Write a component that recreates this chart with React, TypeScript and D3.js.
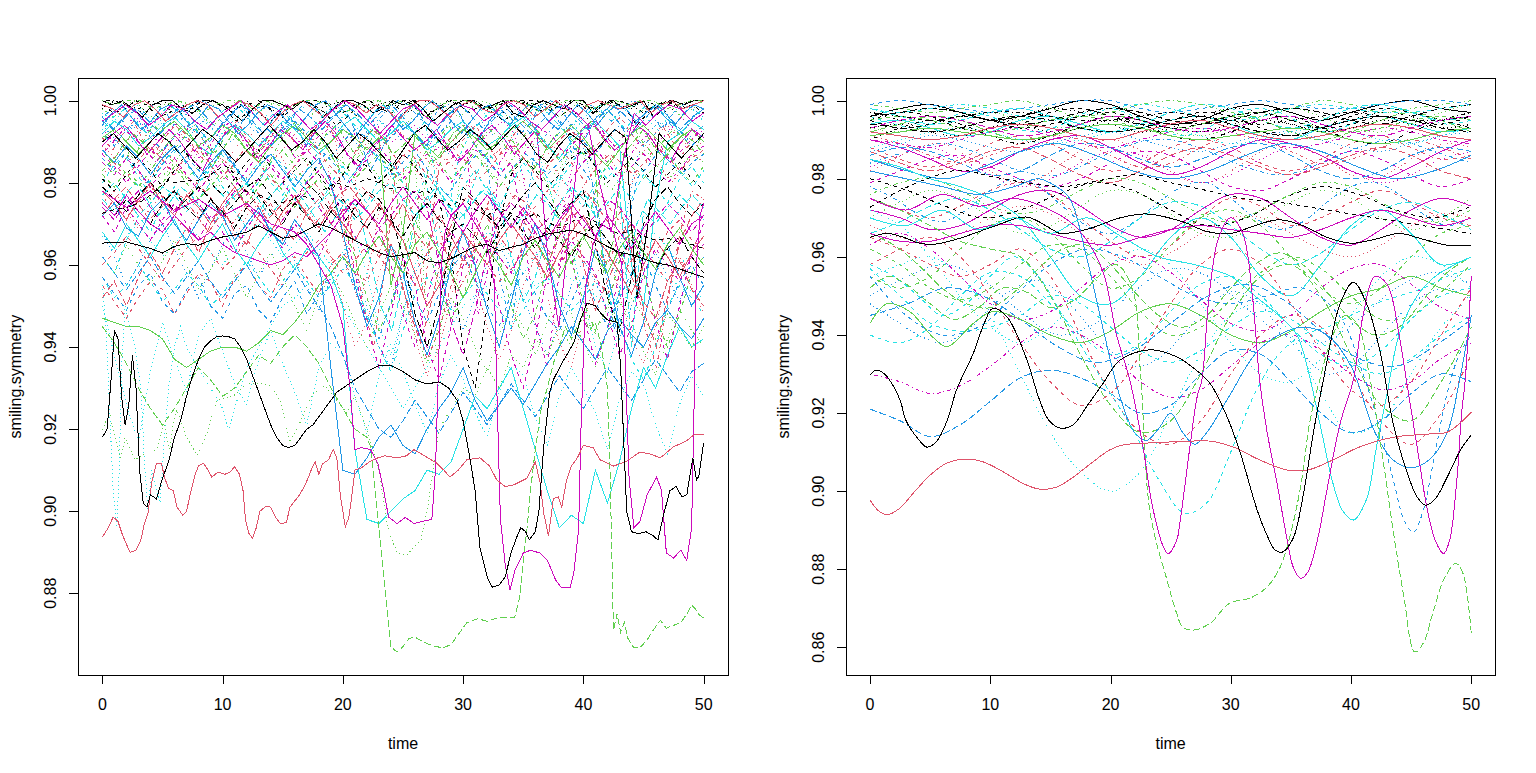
import React from "react";
import * as d3 from "d3";

// ---------- palette / line types (R matplot defaults) ----------
const PALETTE = ["#000000", "#DF536B", "#61D04F", "#2297E6", "#28E2E5", "#CD0BBC"];
const LTY_DASH = [undefined, "4,4", "1,3", "1,3,4,3", "7,3"];

// ---------- axes ----------
const timeTicks = [0, 10, 20, 30, 40, 50];
const rawYTicks = [0.88, 0.9, 0.92, 0.94, 0.96, 0.98, 1.0];
const smoothYTicks = [0.86, 0.88, 0.9, 0.92, 0.94, 0.96, 0.98, 1.0];
const timeLimits = [-2, 52];
const rawYLimits = [0.860097, 1.005457];
const smoothYLimits = [0.852906, 1.005737];
const xLabel = "time";
const yLabel = "smiling.symmetry";

// ---------- LEFT PANEL (raw): prominent series, [time, value] ----------
const rawBlackLow = [[0,.918],[0.4,.920],[0.8,.935],[1.0,.944],[1.3,.942],[1.6,.928],[1.9,.921],[2.2,.926],[2.5,.938],[2.8,.930],[3.1,.910],[3.4,.902],[3.7,.901],[4.0,.904],[4.5,.903],[5.0,.908],[5.5,.912],[6.0,.918],[6.5,.922],[7.0,.928],[7.5,.933],[8.0,.937],[8.5,.940],[9.0,.9415],[9.5,.9425],[10,.9427],[10.5,.9425],[11,.942],[11.5,.940],[12,.937],[12.5,.933],[13,.929],[13.5,.925],[14,.921],[14.5,.918],[15,.916],[15.5,.9155],[16,.916],[16.5,.918],[17,.920],[17.5,.921],[18,.923],[18.5,.925],[19,.927],[19.5,.929],[20,.930],[21,.932],[22,.934],[23,.9355],[24,.9355],[25,.934],[26,.932],[27,.931],[28,.9315],[28.8,.930],[29.5,.927],[30,.922],[30.5,.914],[31,.905],[31.4,.891],[32,.884],[32.4,.8815],[33,.882],[33.5,.884],[34,.890],[34.5,.894],[34.8,.896],[35.2,.895],[35.5,.893],[36,.895],[36.3,.900],[36.7,.9157],[37.2,.929],[37.5,.932],[38.2,.936],[39.2,.941],[39.8,.947],[40.3,.9507],[41,.950],[41.5,.948],[42,.9466],[42.8,.946],[43.1,.935],[43.3,.921],[43.6,.900],[44,.895],[44.6,.8945],[45.2,.895],[45.8,.894],[46.2,.893],[46.7,.8995],[47.2,.905],[47.7,.906],[48.2,.9035],[48.6,.904],[49.1,.913],[49.4,.9076],[49.6,.9085],[50,.9166]];
const rawRedLow = [[0,.8937],[0.5,.896],[0.9,.8986],[1.3,.8975],[1.7,.894],[2.0,.892],[2.3,.890],[2.8,.8905],[3.2,.893],[3.5,.897],[3.8,.8995],[4.1,.907],[4.5,.9117],[4.9,.9117],[5.2,.908],[5.5,.9056],[5.9,.905],[6.2,.901],[6.7,.899],[7.0,.900],[7.3,.904],[7.7,.9088],[8.0,.911],[8.4,.9117],[8.8,.910],[9.1,.9083],[9.6,.9095],[10.2,.909],[10.6,.9095],[11,.9108],[11.4,.909],[11.7,.905],[11.9,.898],[12.2,.8945],[12.5,.8934],[12.8,.896],[13.1,.900],[13.6,.9012],[14,.901],[14.4,.8985],[14.8,.897],[15.3,.8972],[15.6,.901],[16,.9025],[16.4,.904],[16.8,.906],[17.1,.908],[17.5,.911],[17.7,.912],[18,.909],[18.3,.9115],[18.8,.9125],[19.2,.915],[19.5,.913],[19.8,.9035],[20.0,.900],[20.2,.8962],[20.5,.8985],[20.8,.905],[21,.910],[21.5,.9105],[22.2,.912],[22.9,.913],[23.5,.9135],[24.5,.913],[25.3,.9135],[25.9,.915],[26.8,.9135],[27.8,.9117],[28.4,.910],[28.9,.9083],[29.6,.910],[30.3,.9125],[31.4,.913],[32.2,.911],[32.8,.9076],[33.5,.906],[34.2,.9064],[35.3,.908],[36.0,.912],[36.4,.907],[36.7,.8995],[37.1,.894],[37.5,.903],[37.9,.9035],[38.2,.901],[38.6,.9076],[39.0,.911],[39.5,.913],[40,.916],[40.8,.9155],[41.4,.9125],[42.5,.911],[43.5,.912],[44.7,.9144],[45.5,.914],[46.4,.913],[47.5,.9157],[48.5,.917],[49.2,.9186],[50,.9186]];
const rawGreenDeep = [[0,.945],[1,.941],[2,.936],[3,.930],[4,.925],[5,.921],[6,.925],[7,.93],[8,.935],[9,.932],[10,.928],[11,.93],[12,.934],[13,.938],[14,.936],[15,.94],[16,.943],[17,.94],[18,.936],[19,.93],[20,.925],[21,.92],[22,.918],[22.3,.9157],[22.8,.902],[23.3,.887],[23.7,.875],[24,.8669],[24.5,.8657],[25,.867],[25.5,.869],[26,.8693],[26.8,.868],[27.5,.8672],[28.3,.8667],[29,.8675],[29.6,.870],[30.3,.8728],[31.2,.8738],[32,.8732],[33.1,.8742],[34.3,.8742],[34.7,.879],[35,.888],[35.3,.8954],[35.6,.905],[36,.915],[36.5,.925],[37,.930],[37.5,.936],[38,.94],[38.5,.945],[39,.942],[39.5,.945],[40,.948],[40.5,.944],[41,.946],[41.5,.94],[42,.93],[42.2,.912],[42.4,.885],[42.5,.871],[42.8,.875],[43.1,.8705],[43.4,.873],[43.7,.869],[44.2,.8667],[44.7,.8668],[45.3,.8686],[45.8,.871],[46.4,.8734],[46.9,.8715],[47.5,.8722],[48.1,.8728],[48.6,.875],[49,.8771],[49.3,.8762],[49.6,.8748],[50,.874]];
const rawMagentaDip = [[0,.978],[2,.974],[4,.978],[6,.973],[8,.976],[10,.972],[12,.975],[14,.970],[16,.968],[17,.965],[18,.960],[19,.955],[20,.945],[20.6,.93],[21,.915],[21.5,.9155],[22.3,.915],[22.9,.9117],[23.4,.905],[23.8,.8986],[24.5,.897],[25.2,.8985],[25.9,.897],[26.6,.8975],[27.4,.898],[27.7,.91],[28.0,.94],[28.2,.96],[28.5,.968],[29,.972],[30,.975],[31,.97],[32,.965],[32.6,.955],[32.8,.93],[33.1,.898],[33.5,.887],[33.9,.8808],[34.3,.8855],[35,.8898],[35.6,.8905],[36.4,.8898],[37,.8881],[37.7,.8832],[38.2,.8813],[38.9,.8813],[39.2,.885],[39.6,.8954],[39.8,.92],[40.2,.955],[40.8,.965],[41.5,.97],[42.5,.968],[43.2,.96],[43.5,.935],[43.8,.908],[44.2,.896],[44.7,.8975],[45.3,.904],[46.1,.9083],[46.5,.905],[46.9,.8898],[47.5,.8886],[48.1,.8905],[48.6,.888],[49.0,.896],[49.2,.925],[49.4,.96],[49.7,.972],[50,.975]];
const rawBlackMid = [[0,.9653],[1,.9655],[2,.9656],[3,.9648],[4,.964],[5,.9629],[6,.9645],[7,.9652],[8,.9648],[9,.966],[10,.9668],[11,.9673],[12,.968],[13,.9695],[14,.968],[15,.9665],[16,.967],[17,.9685],[18,.970],[19,.969],[20,.9675],[21,.966],[22,.9645],[23,.963],[24,.962],[25,.9625],[26,.963],[27,.961],[28,.9605],[29,.9615],[30,.963],[31,.9645],[32,.965],[33,.9635],[34,.9643],[35,.965],[36,.9665],[37,.9675],[38,.968],[39,.9685],[40,.9675],[41,.966],[42,.9645],[43,.963],[44,.9625],[45,.9615],[46,.9605],[47,.960],[48,.959],[49,.958],[50,.957]];
const rawBlackDashUp = [[0,.9726],[1,.9735],[2,.974],[3,.975],[4,.977],[5,.9795],[5.5,.9806],[6,.980],[7,.9805],[8,.9806],[9,.982],[10,.984],[10.5,.9838],[11,.982],[11.5,.979],[12,.9778],[12.6,.9775],[13.5,.9765],[14.5,.975],[15.5,.9755],[16.5,.977],[17.5,.976],[18.5,.9785],[19.5,.98],[20.5,.979],[22,.981],[23,.98],[24,.9785],[25,.979],[26,.9775],[27,.978],[28,.976],[29,.9745],[30,.976],[31,.9735],[32,.972],[33,.974],[34,.9725],[35,.971],[36,.9725],[37,.9705],[38,.969],[39,.9705],[40,.972],[41,.9705],[42,.969],[43,.9675],[44,.9685],[45,.967],[46,.966],[47,.9665],[48,.9655],[49,.965],[50,.964]];
const rawGreenDotLow = [[0,.9198],[0.6,.9239],[1.5,.9125],[1.9,.918],[2.7,.9125],[3.7,.9144],[4.5,.915],[5.1,.9215],[5.6,.915],[5.9,.9215],[6.2,.9247],[7,.918],[7.9,.9137],[8.7,.919],[9.5,.927],[10.9,.928],[12,.9312],[13.1,.9312],[14,.9305],[14.8,.927],[15.6,.9168],[16.5,.922],[17.5,.9287],[18.5,.9305],[19.5,.927],[20.3,.924],[21,.928],[22,.92],[23,.91],[23.8,.895],[24.5,.89],[25.3,.8893],[26.5,.893],[27,.90],[27.5,.91],[28,.92],[29,.925],[30,.93],[31,.928],[32,.935],[33,.93],[34,.938],[35,.935],[36,.942],[37,.938],[38,.945],[39,.94],[40,.948],[41,.943],[42,.95],[43,.945],[44,.952],[45,.947],[46,.942],[47,.948],[48,.944],[49,.94],[50,.945]];
const rawCyanDotSpike = [[0,.955],[0.3,.945],[0.6,.925],[0.9,.905],[1.2,.896],[1.4,.910],[1.6,.935],[1.9,.95],[2.3,.945],[2.7,.94],[3.2,.93],[3.5,.912],[3.8,.9],[4.1,.91],[4.4,.906],[4.8,.902],[5.1,.915],[5.5,.93],[6,.94],[6.5,.945],[7,.94],[8,.935],[9,.93],[10,.925],[10.5,.92],[11,.925],[12,.935],[13,.94],[14,.945],[15,.95],[16,.952],[17,.955],[18,.958],[19,.955],[20,.95],[21,.945],[22,.94],[23,.935],[24,.93],[25,.925],[26,.93],[27,.935],[28,.94],[29,.945],[30,.95],[32,.955],[34,.95],[36,.955],[38,.958],[40,.955],[42,.95],[44,.955],[46,.958],[48,.955],[50,.952]];

// ---------- LEFT PANEL (raw): mid-level series, evenly spaced over time 0..50 ----------
const rawBlueDrop = [.972,.975,.969,.967,.973,.976,.970,.966,.971,.975,.972,.966,.970,.974,.968,.965,.971,.967,.962,.935,.910,.909,.913,.918,.921,.916,.914,.920,.925,.929,.935,.927,.922,.926,.930,.926,.931,.936,.940,.945,.941,.937,.944,.947,.943,.940,.946,.949,.945,.942,.947];
const rawRedLong = [.952,.956,.950,.957,.963,.958,.964,.969,.963,.970,.974,.968,.965,.972,.975,.969,.966,.973,.976,.970,.967,.974,.969,.963,.970,.975,.968,.964,.972,.967,.961,.968,.974,.967,.963,.971,.966,.960,.967,.973,.960,.949,.956,.963,.957,.951,.947,.956,.961,.954,.950];
const rawGreenSolid = [.947,.946,.945,.945,.944,.942,.937,.935,.937,.939,.940,.940,.939,.941,.944,.943,.946,.950,.955,.958,.962,.958,.963,.967,.962,.958,.965,.968,.963,.958,.952,.958,.964,.960,.955,.962,.966,.961,.957,.963,.967,.962,.958,.964,.968,.963,.959,.965,.969,.964,.960];
const rawBlueDash = [.957,.953,.949,.955,.958,.951,.948,.954,.957,.950,.947,.953,.955,.949,.946,.952,.956,.948,.953,.958,.962,.954,.947,.942,.951,.958,.952,.946,.953,.959,.963,.956,.950,.945,.953,.958,.953,.947,.944,.951,.957,.951,.945,.952,.958,.962,.955,.949,.956,.960,.955];
const rawCyanDotLow = [.950,.938,.926,.917,.934,.946,.937,.929,.943,.947,.939,.931,.926,.937,.944,.936,.929,.921,.935,.941,.938,.928,.919,.933,.941,.934,.926,.919,.931,.938,.932,.924,.918,.929,.936,.933,.923,.916,.928,.935,.930,.924,.915,.927,.934,.931,.921,.914,.926,.933,.928];
const rawBlueDot = [.968,.962,.955,.960,.966,.970,.964,.958,.952,.959,.965,.969,.963,.957,.962,.967,.961,.955,.949,.957,.963,.958,.950,.940,.935,.948,.958,.963,.957,.950,.944,.952,.960,.965,.959,.952,.945,.938,.946,.955,.961,.956,.949,.942,.950,.958,.963,.957,.951,.958,.962];
const rawGreenDot = [.962,.958,.965,.960,.955,.961,.966,.960,.954,.959,.964,.958,.952,.958,.963,.957,.950,.944,.952,.958,.953,.946,.940,.948,.955,.950,.943,.936,.945,.952,.947,.940,.934,.943,.950,.945,.938,.946,.953,.948,.941,.935,.944,.951,.946,.939,.933,.942,.949,.944,.940];
const rawBlueLong = [.962,.958,.954,.958,.962,.957,.953,.957,.961,.956,.952,.956,.960,.955,.951,.955,.959,.954,.950,.945,.938,.930,.925,.920,.918,.922,.927,.923,.919,.924,.929,.925,.921,.926,.931,.927,.923,.928,.933,.929,.925,.930,.935,.931,.927,.932,.937,.933,.929,.934,.936];
const rawCyanDip = [.968,.964,.970,.966,.962,.967,.971,.965,.961,.966,.970,.964,.960,.965,.969,.963,.959,.964,.962,.958,.950,.915,.898,.897,.900,.903,.905,.910,.909,.912,.920,.928,.925,.930,.935,.925,.915,.905,.896,.899,.897,.910,.902,.912,.925,.935,.930,.938,.945,.940,.942];
const rawMagentaDash = [.972,.968,.974,.970,.966,.971,.975,.970,.966,.972,.968,.963,.969,.973,.968,.964,.970,.966,.962,.968,.972,.967,.963,.969,.960,.948,.940,.952,.963,.968,.964,.960,.966,.962,.958,.964,.968,.964,.960,.966,.962,.958,.948,.938,.945,.958,.964,.960,.956,.962,.965];
const rawCyanDash = [.962,.958,.966,.972,.968,.975,.979,.974,.980,.984,.979,.976,.981,.985,.980,.977,.982,.978,.974,.980,.984,.979,.975,.981,.985,.980,.976,.982,.978,.973,.979,.983,.978,.974,.980,.985,.980,.976,.982,.978,.974,.980,.984,.980,.976,.982,.979,.975,.981,.984,.980];
const rawMagentaMid = [.975,.972,.977,.973,.970,.968,.972,.969,.966,.968,.965,.963,.962,.961,.960,.961,.963,.962,.965,.968,.972,.976,.973,.970,.975,.979,.975,.971,.976,.972,.968,.973,.977,.973,.969,.974,.970,.966,.971,.975,.971,.967,.972,.968,.964,.969,.973,.969,.965,.970,.972];
const rawBlackLong = [.975,.972,.976,.973,.970,.975,.978,.974,.971,.976,.973,.969,.974,.977,.973,.970,.975,.972,.968,.973,.976,.972,.969,.974,.971,.967,.972,.975,.971,.968,.970,.967,.963,.968,.972,.968,.964,.969,.966,.962,.967,.970,.966,.962,.966,.963,.959,.964,.967,.962,.958];
const rawRedMid = [.978,.975,.971,.976,.980,.975,.972,.977,.974,.970,.975,.979,.974,.971,.968,.973,.977,.972,.969,.974,.970,.966,.971,.975,.970,.966,.958,.950,.955,.963,.968,.964,.960,.966,.970,.966,.962,.957,.963,.968,.972,.967,.963,.958,.953,.960,.966,.962,.957,.963,.967];
const rawRedDash = [.955,.951,.947,.952,.956,.954,.948,.953,.958,.956,.950,.957,.960,.955,.952,.959,.962,.957,.953,.960,.963,.958,.956,.962,.965,.960,.955,.963,.966,.961,.959,.964,.967,.962,.958,.965,.968,.963,.961,.966,.969,.964,.960,.967,.970,.965,.963,.968,.971,.966,.964];
const rawSpikeA = [.985,.982,.986,.983,.979,.983,.986,.982,.978,.982,.985,.981,.977,.981,.984,.980,.976,.980,.983,.979,.972,.958,.945,.935,.948,.962,.955,.940,.932,.945,.960,.972,.965,.950,.938,.930,.942,.958,.970,.962,.948,.936,.944,.958,.968,.960,.946,.937,.950,.963,.970];
const rawSpikeB = [.975,.978,.973,.969,.974,.977,.972,.968,.973,.976,.971,.967,.972,.975,.970,.966,.971,.974,.969,.962,.950,.940,.946,.958,.965,.955,.942,.933,.940,.952,.962,.956,.945,.937,.944,.955,.962,.952,.941,.935,.946,.957,.963,.953,.942,.936,.945,.956,.962,.955,.948];
const rawSpikeC = [.982,.979,.983,.980,.976,.980,.984,.980,.976,.979,.983,.979,.975,.979,.982,.978,.974,.978,.981,.977,.970,.962,.952,.944,.950,.962,.971,.965,.955,.947,.952,.963,.970,.962,.950,.942,.948,.960,.968,.961,.951,.944,.950,.961,.967,.958,.947,.940,.948,.958,.962];
const rawSpikeD = [.988,.985,.989,.986,.982,.986,.989,.985,.981,.985,.988,.984,.980,.984,.987,.983,.979,.983,.986,.980,.968,.955,.945,.952,.965,.958,.946,.938,.947,.960,.968,.960,.949,.940,.951,.963,.970,.962,.950,.943,.952,.964,.958,.945,.938,.946,.958,.965,.957,.950,.955];

// ---------- LEFT PANEL (raw): dense upper band, evenly spaced over time 0..50 ----------
const rA01 = [1,.999,1,.998,.996,.999,1,1,.998,.997,.999,1,.999,.997,.995,.998,1,1,.999,.998,1,.999,.996,.998,1,1,.999,.997,.998,1,.999,1,.998,.995,.997,.999,1,1,.998,.999,1,.997,.996,.999,1,.999,.998,1,1,.997,.999,1,.998,.999,1,.996,.998,1,.999,1,1];
const rA02 = [.996,.998,.995,.993,.997,.999,.998,.994,.996,.999,1,.997,.994,.992,.996,.998,.999,.996,.993,.997,1,.998,.995,.997,.999,.996,.992,.995,.998,1,.999,.996,.994,.998,.999,.997,.993,.991,.995,.998,.999,.997,.995,.999,1,.998,.994,.996,.999,.997,.995,.998,1,.999,.996,.993,.997,.999,.998,.996];
const rA03 = [.999,.997,.998,1,.999,.996,.997,.999,.998,1,1,.998,.995,.997,.999,.998,.996,.999,1,.999,.997,.994,.996,.999,1,.998,.997,1,.999,.996,.998,1,.999,.997,.999,.998,.995,.997,1,1,.999,.996,.998,.999,.997,1,.999,.998,.994,.997,.999,1,.998,.999,.997];
const rA04 = [.995,.993,.996,.998,.994,.991,.995,.998,.997,.993,.990,.994,.997,.999,.995,.992,.996,.998,.994,.989,.993,.997,.999,.996,.990,.983,.988,.994,.997,.999,.995,.992,.996,.998,.993,.990,.995,.998,.996,.992,.995,.999,.997,.993,.988,.991,.996,.998,.995,.991,.994,.997,.999,.995,.992,.996,.998];
const rA05 = [.998,1,.999,.997,.999,1,.998,.996,.998,1,.999,.998,1,.997,.995,.998,.999,1,.998,.999,1,.996,.998,.999,1,.997,.998,1,.999,.997,.999,1,.998,.996,.999,1,.999,.998,1,.998,.995,.997,1,.999,.998,1,.999,.997,.999,1,1];
const rA06 = [.994,.997,.999,.996,.993,.995,.998,.999,.997,.994,.996,.999,.998,.995,.992,.994,.997,.999,.998,.995,.993,.996,.999,1,.997,.994,.991,.994,.997,.999,.996,.993,.995,.998,1,.998,.995,.992,.995,.998,.999,.996,.994,.997,.999,.998,.995,.993,.996,.999,.997,.994,.997,.999,.998,.995,.997,.999,.996,.994,.997,.999,.998];
const rA07 = [1,1,.999,.998,1,.999,.997,.998,1,1,.999,.998,.999,1,.998,.996,.999,1,1,.999,.997,.999,1,.998,.999,1,1,.997,.998,1,.999,1,.998,.999,1,1,.998,.997,.999,1,.999,.998,1,1,.999,.997,.999,1,.998,1,1];
const rA08 = [.997,.995,.998,.999,.996,.994,.997,.999,.998,.995,.991,.994,.997,.999,.997,.993,.995,.998,.999,.996,.993,.997,.999,.998,.995,.992,.996,.999,.998,.994,.996,.999,1,.997,.993,.990,.994,.997,.985,.975,.984,.996,.999,.998,.995,.997,.999,.996,.993,.996,.999,.998,.995];
const rA09 = [.999,.998,.996,.999,1,.998,.995,.997,.999,1,.999,.996,.998,1,.999,.997,.994,.997,.999,1,.998,.996,.998,1,.999,.997,.999,.998,.995,.998,1,1,.998,.996,.999,1,.998,.997,.999,1,.999,.996,.998,1,.998,.996,.999,1,.999,.998,.999,1,.997,.999,1,.998,.999,1];
const rA10 = [.993,.996,.998,.995,.992,.996,.999,.997,.994,.991,.995,.998,.999,.996,.993,.996,.998,.995,.991,.994,.997,.999,.996,.993,.996,.999,.998,.994,.992,.995,.980,.972,.986,.992,.995,.998,.996,.993,.996,.999,.997,.994,.991,.995,.998,.999,.996,.993,.997,.999,.998,.995,.992,.996,.998];
const rA11 = [.998,.996,.999,1,.997,.995,.998,1,.999,.996,.994,.997,1,.999,.997,.999,1,.998,.995,.997,.999,1,.998,.996,.999,1,.997,.994,.996,.999,1,.998,.996,.998,1,.999,.997,.995,.998,1,.999,.996,.998,1,.998,.996,.999,1,.997,.998,1,.999,.996,.998,1];
const rA12 = [.995,.997,.999,.997,.994,.996,.999,.998,.995,.993,.996,.998,1,.997,.994,.997,.999,.996,.993,.995,.998,1,.998,.995,.992,.995,.998,.999,.996,.994,.997,.999,.998,.995,.997,1,.998,.995,.993,.996,.999,.997,.994,.980,.968,.985,.997,.994,.997,.999,.998,.995,.997];
const rA13 = [1,.999,1,1,.998,.999,1,.999,.997,.999,1,1,.998,1,.999,.998,1,1,.999,.997,.998,1,1,.999,1,.998,.996,.999,1,1,.999,.998,1,1,.999,.997,.999,1,1,.998,.999,1,.999,1,1,.998,.999,1,1];
const rA14 = [.996,.993,.996,.998,.995,.992,.995,.998,.999,.996,.993,.996,.999,.997,.994,.991,.995,.998,.996,.993,.996,.999,.997,.994,.997,.999,.996,.992,.989,.993,.997,.999,.996,.993,.996,.998,.995,.992,.995,.998,.999,.996,.993,.996,.999,.997,.994,.997,.999,.996,.993,.996,.998];
const rB01 = [.991,.988,.992,.995,.990,.987,.991,.994,.992,.988,.985,.989,.993,.995,.991,.987,.990,.994,.992,.988,.991,.995,.993,.989,.986,.990,.993,.991,.987,.984,.970,.952,.975,.992,.988,.991,.994,.990,.986,.989,.993,.996,.992,.988,.990,.993,.991,.987,.990,.994,.996,.992,.989,.991,.994,.990,.987,.991,.994];
const rB02 = [.989,.992,.994,.991,.987,.990,.993,.990,.986,.983,.988,.992,.994,.990,.986,.989,.993,.991,.988,.992,.995,.992,.987,.984,.988,.991,.994,.991,.988,.990,.993,.989,.985,.988,.992,.994,.991,.987,.990,.993,.962,.945,.970,.993,.995,.991,.988,.990,.994,.992,.988,.985,.990,.993,.991];
const rB03 = [.990,.993,.989,.986,.990,.994,.992,.988,.991,.994,.990,.987,.991,.994,.991,.987,.983,.988,.992,.995,.991,.988,.992,.994,.990,.986,.989,.993,.990,.975,.962,.970,.984,.991,.994,.990,.987,.990,.993,.991,.987,.990,.994,.992,.988,.985,.989,.993,.995,.991,.988,.991,.994,.990,.987,.990,.993,.991,.988,.992];
const rB04 = [.992,.995,.993,.989,.991,.994,.996,.993,.989,.987,.991,.994,.992,.989,.992,.995,.993,.990,.987,.990,.994,.996,.993,.990,.992,.995,.992,.988,.990,.993,.995,.992,.989,.991,.994,.996,.993,.989,.986,.990,.993,.995,.992,.989,.960,.950,.975,.990,.992,.995,.993];
const rB05 = [.988,.985,.989,.992,.990,.986,.988,.991,.994,.991,.987,.984,.988,.992,.989,.986,.989,.993,.991,.987,.990,.993,.990,.986,.982,.986,.990,.993,.991,.987,.989,.992,.989,.985,.988,.992,.994,.990,.986,.989,.992,.990,.986,.983,.987,.991,.993,.990,.987,.989,.958,.966,.987,.990,.993,.989,.986,.989,.992,.990,.987];
const rB06 = [.993,.990,.994,.996,.993,.990,.993,.995,.992,.989,.992,.995,.993,.990,.987,.991,.994,.992,.989,.992,.995,.993,.990,.993,.996,.993,.990,.992,.994,.991,.988,.992,.995,.993,.990,.993,.995,.992,.978,.963,.955,.968,.982,.990,.994,.992,.989,.992,.995,.993,.990,.993,.996,.993,.990];
const rB07 = [.991,.993,.990,.987,.990,.993,.995,.992,.989,.991,.994,.992,.988,.985,.989,.992,.994,.991,.988,.990,.993,.991,.988,.991,.955,.968,.992,.989,.986,.990,.993,.991,.988,.990,.993,.995,.992,.988,.991,.994,.991,.987,.984,.988,.992,.994,.991,.988,.991,.993,.990];
const rB08 = [.987,.990,.993,.991,.988,.985,.989,.992,.990,.986,.989,.993,.995,.991,.987,.990,.993,.990,.986,.988,.991,.993,.990,.986,.983,.987,.991,.994,.991,.988,.990,.992,.989,.985,.988,.948,.960,.985,.989,.986,.990,.993,.991,.987,.990,.993,.995,.991,.988,.986,.990,.992,.989,.985,.988,.991,.993];
const rB09 = [.994,.991,.988,.991,.994,.996,.993,.990,.992,.995,.993,.989,.991,.994,.992,.989,.992,.995,.992,.988,.991,.994,.992,.989,.992,.995,.993,.990,.992,.994,.991,.987,.990,.993,.995,.992,.988,.991,.994,.992,.989,.992,.994,.991,.980,.966,.958,.971,.986,.992,.995,.992,.989,.992,.994];
const rB10 = [.990,.992,.989,.986,.989,.992,.990,.987,.990,.993,.991,.988,.985,.988,.991,.994,.991,.988,.990,.993,.990,.986,.989,.992,.990,.987,.984,.988,.992,.994,.991,.988,.990,.993,.991,.988,.991,.994,.991,.987,.985,.989,.992,.990,.987,.990,.993,.991,.952,.970,.992,.989,.986,.989,.992];
const rB11 = [.992,.989,.993,.995,.991,.988,.991,.994,.992,.988,.991,.994,.996,.992,.989,.992,.995,.992,.988,.986,.990,.993,.991,.988,.991,.994,.992,.989,.992,.995,.993,.989,.986,.958,.944,.968,.989,.992,.995,.993,.990,.987,.991,.994,.992,.989,.992,.995,.992,.989,.992];
const rB12 = [.989,.986,.990,.993,.990,.987,.990,.994,.991,.988,.985,.989,.992,.990,.986,.989,.993,.991,.988,.991,.962,.991,.987,.990,.993,.990,.987,.984,.988,.992,.994,.990,.987,.990,.993,.990,.986,.989,.993,.991,.987,.990,.993,.990,.987,.991,.994,.991,.988,.990];
const rC01 = [.985,.982,.986,.989,.985,.981,.984,.988,.986,.982,.979,.983,.987,.989,.985,.981,.984,.987,.984,.980,.983,.987,.989,.985,.981,.978,.982,.986,.950,.938,.962,.983,.987,.985,.981,.984,.988,.990,.986,.982,.985,.988,.985,.981,.978,.982,.986,.988,.984,.981,.984,.987,.985];
const rC02 = [.982,.985,.988,.984,.980,.983,.987,.985,.981,.978,.982,.986,.984,.980,.983,.987,.989,.985,.981,.984,.987,.984,.972,.958,.950,.962,.976,.983,.987,.984,.980,.983,.986,.983,.979,.982,.986,.988,.984,.980,.983,.987,.984,.980,.976,.980,.984,.987,.983,.979,.983,.986,.984,.980,.983,.987,.985];
const rC03 = [.987,.984,.980,.984,.988,.986,.982,.985,.989,.986,.982,.979,.983,.987,.985,.981,.984,.988,.985,.981,.978,.982,.986,.989,.985,.981,.984,.987,.984,.980,.984,.988,.986,.982,.985,.970,.946,.935,.958,.981,.985,.988,.985,.981,.984,.987,.984,.980,.983,.987,.989];
const rC04 = [.980,.984,.987,.983,.979,.982,.986,.988,.984,.980,.983,.987,.985,.981,.978,.982,.986,.983,.979,.983,.987,.989,.985,.981,.984,.988,.985,.981,.983,.986,.982,.968,.955,.962,.975,.983,.987,.984,.980,.983,.986,.983,.979,.982,.986,.988,.984,.981,.984,.987,.984,.980,.983,.986,.982,.979,.983];
const rC05 = [.986,.983,.987,.984,.980,.983,.987,.989,.985,.982,.985,.988,.984,.980,.984,.987,.985,.982,.979,.983,.987,.984,.980,.984,.988,.986,.982,.985,.988,.984,.980,.977,.981,.985,.988,.984,.981,.984,.987,.985,.982,.985,.988,.984,.980,.962,.944,.966,.981,.984,.988,.985,.982,.985,.987];
const rC06 = [.983,.986,.982,.979,.983,.987,.985,.981,.984,.988,.985,.981,.977,.981,.985,.988,.984,.980,.983,.987,.985,.981,.984,.987,.983,.980,.984,.988,.985,.981,.984,.987,.983,.979,.983,.986,.984,.980,.971,.960,.966,.978,.985,.988,.984,.981,.984,.987,.983,.980,.984];
const rC07 = [.988,.985,.981,.985,.989,.986,.982,.986,.989,.985,.981,.984,.988,.986,.982,.979,.983,.987,.989,.985,.982,.970,.952,.940,.960,.985,.988,.984,.980,.984,.987,.985,.981,.984,.988,.989,.985,.981,.985,.988,.984,.980,.984,.987,.985,.982,.985,.989,.986,.983,.986,.988];
const rC08 = [.981,.978,.982,.986,.983,.979,.983,.987,.984,.980,.977,.981,.985,.988,.984,.980,.983,.986,.982,.978,.982,.986,.984,.980,.983,.987,.984,.980,.976,.962,.940,.930,.950,.970,.982,.986,.983,.979,.982,.986,.988,.984,.980,.983,.986,.983,.979,.982,.985,.981,.978];
const rD01 = [.976,.973,.977,.980,.976,.972,.975,.979,.977,.973,.970,.974,.978,.980,.976,.972,.975,.979,.976,.972,.968,.972,.976,.974,.962,.950,.944,.956,.970,.976,.979,.975,.971,.974,.978,.976,.972,.969,.973,.977,.975,.971,.974,.978,.975,.962,.950,.958,.970,.976,.973,.970,.974,.977,.974];
const rD02 = [.978,.975,.971,.975,.979,.977,.973,.976,.980,.977,.973,.970,.974,.978,.975,.971,.974,.978,.980,.976,.972,.975,.979,.976,.972,.969,.973,.977,.975,.965,.953,.958,.970,.977,.980,.976,.972,.975,.979,.976,.972,.975,.978,.974,.970,.960,.945,.935,.952,.968,.978,.976];
const rD03 = [.972,.976,.979,.975,.971,.974,.978,.976,.972,.968,.972,.976,.979,.975,.971,.974,.977,.974,.970,.973,.977,.979,.975,.971,.967,.960,.949,.941,.952,.965,.973,.977,.974,.970,.973,.977,.975,.971,.967,.971,.975,.978,.974,.970,.973,.962,.948,.940,.953,.966,.972,.976];
const rD04 = [.979,.976,.973,.977,.980,.977,.973,.976,.979,.976,.972,.975,.979,.981,.977,.973,.976,.980,.977,.973,.970,.974,.978,.976,.972,.962,.948,.940,.950,.966,.979,.976,.972,.969,.973,.977,.980,.976,.972,.975,.978,.965,.952,.944,.957,.970,.976,.979,.975,.972,.975];
const rD05 = [.974,.971,.975,.978,.974,.970,.973,.977,.975,.971,.974,.978,.975,.971,.967,.971,.975,.978,.974,.970,.973,.976,.973,.969,.972,.976,.978,.974,.960,.946,.938,.949,.963,.971,.975,.972,.968,.971,.975,.973,.969,.972,.976,.974,.970,.967,.971,.975,.972,.968,.972];
const rD06 = [.977,.980,.976,.972,.975,.979,.977,.973,.976,.980,.977,.973,.969,.973,.977,.980,.976,.972,.975,.978,.975,.971,.974,.978,.980,.976,.972,.975,.979,.976,.972,.976,.979,.975,.962,.951,.957,.968,.975,.979,.976,.972,.975,.979,.940,.973,.970,.974,.977,.974,.971];
const rE01 = [.967,.963,.967,.970,.966,.962,.965,.969,.967,.963,.960,.964,.968,.970,.966,.962,.965,.968,.964,.960,.963,.967,.958,.945,.938,.948,.960,.966,.969,.965,.961,.964,.968,.966,.962,.958,.962,.966,.969,.965,.952,.940,.934,.945,.958,.965,.968,.964,.960,.963,.967];
const rE02 = [.960,.963,.967,.964,.960,.956,.960,.964,.967,.963,.959,.962,.966,.963,.959,.955,.959,.963,.966,.962,.958,.961,.965,.962,.958,.954,.946,.937,.944,.955,.961,.964,.960,.956,.959,.963,.961,.957,.960,.964,.961,.957,.953,.957,.961,.964,.960,.956,.959,.962,.958];
const rE03 = [.957,.952,.955,.960,.956,.951,.954,.958,.955,.950,.953,.957,.961,.957,.953,.956,.960,.956,.952,.955,.959,.956,.948,.940,.934,.944,.953,.957,.953,.949,.952,.956,.953,.949,.945,.949,.954,.957,.953,.949,.952,.956,.953,.945,.937,.932,.940,.950,.955,.952,.948];

// ---------- RIGHT PANEL (smoothed): prominent series, [time, value] ----------
const smBlackLow = [[0,.9297],[0.5,.931],[1,.9305],[1.5,.929],[2.5,.9233],[3,.918],[4.1,.913],[4.7,.9113],[5.5,.9126],[6.4,.918],[7.2,.926],[8.6,.9354],[9.5,.943],[10.2,.9468],[11.4,.9446],[13,.934],[14.1,.9233],[14.9,.918],[15.9,.9161],[16.9,.917],[18,.9216],[19.4,.9277],[20.8,.9336],[23.3,.9362],[25.5,.9344],[27.4,.9303],[28.3,.9275],[29.7,.919],[30.8,.9097],[32.2,.8951],[33,.8888],[33.7,.8849],[34.3,.8844],[35.2,.888],[36,.8985],[36.9,.9155],[37.7,.9285],[39.1,.948],[40.2,.9535],[41.3,.948],[42.4,.936],[43.5,.9174],[44.6,.9054],[45.5,.8985],[46.2,.8964],[47,.898],[48,.9036],[49.1,.9105],[50,.9144]];
const smRedLow = [[0,.8977],[0.8,.8947],[1.5,.894],[2.5,.8957],[3.6,.8995],[5,.9041],[6.4,.9072],[8,.9082],[9.4,.9075],[11.1,.9049],[12.7,.902],[14.1,.9005],[15.5,.901],[16.9,.9036],[18.5,.9074],[19.9,.9105],[21,.9118],[23,.9123],[26,.9127],[28.3,.9128],[30.2,.9113],[32.4,.908],[34.7,.9054],[36.4,.9054],[38.5,.908],[40.7,.9113],[43.5,.9138],[46.3,.9146],[48,.9151],[50,.9202]];
const smGreenDeep = [[0,.952],[1.5,.955],[3,.953],[5,.948],[7,.944],[9,.947],[11,.952],[13,.951],[15,.947],[17,.949],[19,.955],[20.5,.958],[21.8,.952],[22.5,.93],[23.3,.8943],[24.7,.8772],[25.5,.8687],[26,.8652],[26.9,.8644],[28.3,.8662],[29.9,.8713],[31.6,.8726],[33,.8754],[34.1,.8805],[34.9,.8882],[35.8,.901],[36.6,.9182],[37.4,.9285],[38.5,.94],[39.5,.945],[40.5,.943],[41.5,.93],[42.7,.9072],[43.5,.89],[44.4,.8729],[45.3,.8588],[46,.861],[46.8,.8687],[47.7,.8772],[48.7,.8815],[49.3,.879],[50,.8636]];
const smMagentaDip = [[0,.975],[3,.972],[6,.976],[9,.973],[12,.975],[15,.972],[17,.968],[18.5,.962],[19.5,.955],[20.5,.94],[21.6,.9285],[22.7,.9113],[23.5,.8959],[24.4,.8857],[24.8,.884],[25.5,.8874],[25.8,.8926],[26.6,.9113],[27.2,.9241],[27.6,.9285],[28.2,.95],[29,.965],[30,.97],[31,.966],[31.8,.95],[32.4,.9285],[33,.9155],[33.8,.9028],[34.7,.8874],[35.2,.8805],[35.8,.8777],[36.4,.8792],[37.2,.8874],[38,.9003],[39.1,.9174],[40.2,.9285],[41,.945],[42,.955],[43,.953],[44,.94],[44.6,.9285],[45.5,.9113],[46.3,.896],[47,.8874],[47.7,.884],[48.2,.8874],[48.8,.9028],[49.2,.92],[49.5,.9285],[50,.955]];
const smBlackMid = [[0,.965],[1.4,.966],[2.8,.965],[4.1,.9635],[5.5,.9633],[7.5,.9648],[10.2,.9677],[13,.9702],[15.2,.9669],[15.8,.966],[18,.967],[20.8,.970],[23,.971],[26,.969],[28,.9665],[30,.966],[32,.968],[34,.9695],[36,.968],[38,.965],[40,.9635],[42,.9645],[44,.966],[46,.9645],[48,.963],[50,.963]];
const smBlackDashUp = [[0,.9727],[2.5,.977],[5.2,.9805],[7.5,.9822],[10.2,.9805],[13,.979],[16,.978],[19,.9795],[22,.981],[25,.979],[28,.977],[31,.975],[34,.974],[37,.9725],[40,.971],[43,.9695],[46,.968],[50,.966]];
const smCyanDashDip = [[0,.958],[2,.955],[4,.95],[6,.945],[8,.948],[10,.955],[12,.96],[14,.955],[16,.945],[18,.935],[20,.925],[22,.915],[24,.903],[26.2,.8943],[28,.897],[30,.91],[32,.925],[34,.935],[36,.94],[38,.942],[40,.945],[42,.948],[44,.95],[46,.952],[48,.955],[50,.957]];
const smCyanSolidDip = [[0,.97],[3,.968],[6,.972],[9,.967],[12,.97],[15,.966],[18,.97],[21,.965],[24,.96],[27,.958],[30,.955],[32,.95],[34,.945],[35.5,.94],[36.5,.93],[37.5,.916],[38.5,.902],[39.3,.895],[40.2,.8926],[41.3,.898],[42.1,.911],[43,.925],[44,.94],[45.5,.95],[47,.955],[50,.96]];
const smBlueDashDip = [[0,.955],[3,.945],[6,.94],[9,.942],[12,.95],[15,.958],[18,.962],[21,.96],[24,.955],[27,.95],[30,.948],[33,.95],[36,.952],[39,.945],[41,.93],[42.5,.915],[43.5,.903],[44.5,.892],[45.2,.8895],[46,.895],[47,.91],[48,.925],[49,.935],[50,.94]];
const smBlueSolidDip = [[0,.982],[3,.98],[6,.978],[9,.976],[12,.978],[14,.98],[15.5,.978],[16.6,.975],[18,.96],[19.5,.94],[20.8,.924],[22,.915],[23,.913],[24,.916],[25,.92],[26,.915],[27,.912],[28,.915],[30,.925],[32,.935],[34,.94],[36,.942],[38,.94],[40,.932],[42,.915],[43.5,.908],[45,.906],[46.5,.908],[48,.915],[49,.928],[50,.945]];
const smGreenSolid = [[0,.943],[1.4,.948],[3.3,.946],[5.2,.9395],[6.4,.937],[8.6,.943],[10.2,.946],[12.5,.944],[15,.94],[17.5,.938],[20,.941],[22.5,.946],[25,.948],[27.5,.945],[30,.94],[32.5,.938],[35,.941],[37.5,.946],[40,.95],[42.5,.952],[45,.955],[47.5,.952],[50,.95]];
const smMagentaMid = [[0,.966],[2.5,.964],[5,.964],[7.5,.966],[10,.968],[12.5,.968],[15,.966],[17.5,.964],[20,.963],[22.5,.965],[25,.967],[27.5,.968],[30,.967],[32.5,.966],[35,.965],[37.5,.967],[40,.970],[42.5,.972],[45,.970],[47.5,.968],[50,.970]];

// ---------- RIGHT PANEL (smoothed): background series, evenly spaced over time 0..50 ----------
const sT01 = [.996,.998,.999,.997,.995,.996,.998,1,.999,.996,.994,.995,.998,.999,.997,.995,.997,.999,1,.998,.997];
const sT02 = [.993,.992,.994,.996,.997,.995,.993,.994,.996,.995,.992,.991,.993,.996,.998,.996,.993,.992,.994,.997,.999];
const sT03 = [.998,.996,.994,.995,.997,.998,.996,.993,.992,.994,.997,.999,.998,.995,.993,.995,.998,.999,.997,.995,.996];
const sT04 = [.995,.997,.996,.993,.992,.994,.997,.998,.996,.994,.995,.997,.996,.993,.991,.993,.996,.998,.997,.995,.993];
const sT05 = [.999,.998,.997,.998,.999,1,.998,.996,.997,.999,1,.999,.997,.996,.998,1,.999,.997,.998,.999,1];
const sT06 = [.994,.995,.993,.991,.992,.995,.996,.994,.992,.993,.995,.996,.994,.991,.990,.993,.995,.996,.994,.992,.993];
const sT07 = [.997,.995,.992,.991,.993,.996,.998,.997,.994,.992,.993,.996,.998,.997,.994,.993,.995,.997,.996,.993,.994];
const sT08 = [.992,.994,.996,.995,.992,.990,.991,.994,.996,.995,.993,.994,.996,.995,.992,.990,.992,.995,.997,.995,.992];
const sT09 = [.996,.994,.993,.995,.997,.996,.993,.992,.994,.997,.998,.996,.993,.991,.993,.996,.998,.997,.994,.992,.994,.997,.998,.996,.994,.995];
const sT10 = [.990,.993,.995,.994,.991,.989,.991,.994,.996,.994,.991,.990,.992,.995,.996,.993,.990,.989,.992,.995,.997];
const sT11 = [.995,.993,.994,.996,.995,.993,.994,.996,.997,.995,.993,.994,.996,.997,.995,.993,.994,.996,.995,.994,.996];
const sT12 = [.993,.994,.992,.993,.995,.994,.992,.993,.995,.994,.993,.992,.994,.995,.994,.992,.993,.995,.994,.993,.994];
const sT13 = [.997,.996,.995,.996,.997,.997,.996,.995,.995,.996,.997,.996,.995,.994,.995,.996,.997,.996,.995,.995,.996];
const sT14 = [.991,.992,.993,.992,.991,.990,.991,.993,.994,.993,.991,.990,.991,.992,.993,.992,.990,.989,.990,.992,.993];
const sT15 = [.999,1,.999,.998,.997,.998,.999,1,1,.998,.997,.998,.999,1,.999,.998,.998,.999,1,1,.999];
const sT16 = [.988,.990,.992,.993,.992,.990,.989,.990,.992,.994,.993,.991,.989,.990,.992,.993,.992,.990,.989,.991,.993];
const sT17 = [.994,.993,.992,.993,.995,.996,.995,.993,.992,.993,.995,.996,.994,.992,.991,.993,.995,.996,.995,.993,.992];
const sT18 = [.990,.989,.988,.990,.992,.993,.991,.989,.988,.990,.992,.993,.992,.990,.988,.989,.991,.993,.992,.990,.989];
const sT19 = [.996,.997,.998,.997,.995,.994,.995,.997,.998,.997,.995,.994,.995,.997,.998,.997,.995,.994,.996,.998,.999];
const sT20 = [.992,.991,.990,.991,.993,.994,.993,.991,.990,.992,.994,.995,.993,.991,.990,.991,.993,.994,.993,.991,.990];
const sT21 = [.995,.996,.995,.993,.992,.993,.995,.996,.995,.993,.992,.994,.996,.997,.995,.993,.992,.993,.995,.996,.995];
const sT22 = [.987,.989,.991,.990,.988,.987,.989,.991,.992,.990,.988,.987,.989,.991,.992,.990,.988,.987,.989,.991,.992];
const sT23 = [.998,.997,.998,.999,.998,.996,.995,.996,.998,.999,.998,.996,.995,.996,.998,.999,.998,.997,.997,.998,.999];
const sT24 = [.993,.995,.996,.995,.993,.991,.992,.994,.996,.995,.993,.992,.993,.995,.996,.994,.992,.991,.993,.995,.996];
const sU01 = [.988,.985,.983,.985,.989,.991,.989,.985,.982,.984,.988,.990,.988,.984,.982,.985,.989,.991,.988,.985,.986];
const sU02 = [.984,.987,.989,.986,.982,.981,.985,.989,.990,.987,.983,.981,.984,.988,.990,.987,.984];
const sU03 = [.990,.988,.985,.982,.983,.987,.990,.991,.988,.984,.981,.983,.987,.990,.989,.986,.982,.980,.983,.987,.990];
const sU04 = [.982,.985,.988,.989,.986,.982,.979,.980,.984,.988,.990,.988,.984,.980,.979,.982,.986,.989,.988,.985,.981,.980,.983,.987,.989,.988];
const sU05 = [.986,.988,.987,.984,.981,.982,.986,.989,.988,.985,.983,.985,.988,.989,.986,.982,.980,.982,.986,.988,.987];
const sU06 = [.979,.982,.985,.986,.983,.980,.978,.980,.984,.987,.986,.982,.978,.977,.980,.984,.987,.985,.981,.978,.980];
const sU07 = [.991,.989,.986,.984,.986,.989,.991,.990,.986,.983,.984,.988,.991,.990,.987,.984,.985,.988,.990,.988,.985];
const sU08 = [.985,.982,.980,.983,.987,.989,.986,.982,.980,.982,.986,.989,.987,.983,.980,.982,.986];
const sU09 = [.983,.986,.988,.985,.981,.978,.980,.984,.987,.986,.982,.979,.981,.985,.988,.986,.982,.979,.981,.985,.987];
const sU10 = [.987,.984,.982,.984,.987,.988,.985,.981,.979,.982,.986,.988,.986,.983,.981,.983,.986,.988,.986,.982,.980];
const sM01 = [.975,.972,.970,.973,.977,.979,.976,.970,.964,.960,.963,.970,.975,.973,.968,.970,.974,.977,.974,.970,.968];
const sM02 = [.970,.974,.977,.975,.970,.966,.968,.973,.977,.976,.971,.966,.965,.969,.974,.977,.975,.970,.967,.970,.975];
const sM03 = [.978,.975,.971,.969,.972,.977,.980,.978,.973,.968,.966,.969,.974,.978,.979,.975,.970,.967,.969,.974,.978,.979,.976,.971,.968,.970];
const sM04 = [.966,.969,.973,.975,.972,.967,.962,.960,.964,.970,.974,.973,.968,.962,.958,.961,.967,.972,.974,.971,.967];
const sM05 = [.972,.970,.967,.968,.972,.976,.977,.973,.968,.965,.967,.972,.976,.975,.970,.965,.963,.967,.972,.975,.973];
const sM06 = [.980,.977,.973,.970,.972,.976,.979,.977,.972,.968,.970,.975,.978,.976,.972,.970,.973];
const sM07 = [.968,.965,.964,.966,.970,.973,.971,.966,.961,.958,.961,.966,.970,.970,.966,.962,.960,.963,.968,.971,.970];
const sM08 = [.976,.979,.980,.977,.973,.971,.973,.977,.980,.979,.975,.971,.969,.972,.976,.979,.978,.974,.970,.969,.972];
const sL01 = [.957,.950,.943,.941,.942,.945,.950,.948,.942,.936,.933,.936,.942,.946,.944,.938,.933,.930,.934,.940,.945];
const sL02 = [.950,.955,.958,.954,.946,.940,.943,.951,.957,.955,.947,.940,.938,.944,.952,.956,.953];
const sL03 = [.962,.958,.952,.949,.952,.958,.963,.962,.955,.946,.940,.942,.949,.956,.960,.957,.950,.944,.945,.951,.958];
const sL04 = [.930,.928,.925,.927,.932,.938,.942,.940,.935,.928,.924,.926,.932,.938,.940,.936,.930,.926,.928,.934,.938];
const sL05 = [.921,.918,.914,.917,.923,.929,.931,.929,.925,.920,.922,.930,.936,.935,.928,.920,.915,.918,.925,.930,.928];
const sL06 = [.955,.958,.960,.955,.945,.930,.915,.905,.900,.905,.920,.935,.945,.948,.940,.925,.915,.918,.930,.942,.950];
const sL07 = [.965,.962,.958,.955,.958,.962,.955,.940,.925,.915,.912,.918,.930,.940,.945,.942,.930,.918,.912,.920,.935];
const sL08 = [.975,.972,.968,.964,.962,.960,.950,.935,.922,.915,.918,.930,.945,.955,.958,.950,.935,.922,.918,.928,.942];
const sL09 = [.985,.983,.980,.978,.975,.970,.960,.950,.948,.955,.965,.970,.965,.955,.950,.958,.968,.972,.966,.958,.960];
const sL10 = [.940,.938,.942,.950,.956,.955,.948,.940,.935,.938,.946,.953,.955,.950,.942,.935,.932,.936,.944,.950,.952];
const sL11 = [.948,.944,.940,.938,.941,.947,.952,.954,.950,.943,.936,.932,.934,.940,.947,.951,.949,.942,.935,.930,.932,.938,.945,.950,.952,.949];
const sL12 = [.955,.952,.955,.962,.968,.970,.966,.958,.952,.955,.963,.970,.972,.968,.960,.952,.948,.952,.960,.966,.968];
const sL13 = [.963,.966,.962,.955,.948,.944,.946,.952,.958,.960,.956,.949,.943,.941,.945,.952,.957,.958,.953,.947,.944];
const sL14 = [.945,.948,.952,.950,.944,.937,.933,.936,.943,.950,.953,.949,.941,.934,.932,.937,.944];
const sL15 = [.972,.968,.960,.950,.942,.938,.942,.950,.958,.962,.958,.948,.938,.930,.928,.934,.945,.955,.960,.958,.952];
const sL16 = [.958,.962,.965,.960,.950,.938,.928,.922,.925,.935,.948,.958,.962,.958,.948,.936,.926,.922,.928,.940,.952];
const sL17 = [.966,.963,.958,.952,.948,.947,.951,.957,.962,.963,.958,.951,.945,.942,.945,.952,.958,.961,.958,.951,.944,.940,.942,.949,.956,.960];

const rawBand = [rA01,rB01,rC01,rA02,rD01,rB02,rA03,rC02,rB03,rA04,rB04,rC03,rA05,rD02,rB05,rA06,rC04,rB06,rA07,rD03,rB07,rC05,rA08,rB08,rD04,rA09,rC06,rB09,rA10,rD05,rB10,rC07,rA11,rB11,rD06,rA12,rC08,rB12,rA13,rA14];
const smoothTop = [sT01,sU01,sT02,sU02,sT03,sU03,sT04,sU04,sT05,sU05,sT06,sU06,sT07,sU07,sT08,sU08,sT09,sU09,sT10,sU10,sT14,sT15,sT16,sT18,sT19,sT20,sT21,sT22,sT23,sT24];
const smoothBlackTop = [sT11,sT12,sT13,sT17];
const smoothMid = [sM01,sM02,sM03,sM04,sM05,sM06,sM07,sM08];
const smoothLow = [sL01,sL02,sL03,sL04,sL05,sL06,sL07,sL08,sL09,sL10,sL11,sL12,sL13,sL14,sL15,sL16,sL17];

// colour / line-type rotation for the lower smoothed curves (mostly cyan, blue, green)
const lowColours = [4, 3, 2, 5, 3, 4, 1, 2, 4];
const lowTypes = [1, 2, 1, 3, 4, 2, 1, 4, 0];

type Series = { pts: number[][]; col: number; lty: number };

function uniform(vals: number[]): number[][] {
  const n = vals.length;
  return vals.map((v, i) => [(i * 50) / (n - 1), v]);
}

// matplot-style cycling of colour and line type
function cyclic(list: number[][], offset: number): Series[] {
  return list.map((vals, i) => ({ pts: uniform(vals), col: (i + offset) % 6, lty: (i + offset) % 5 }));
}
function cyclicLow(list: number[][]): Series[] {
  return list.map((vals, i) => ({ pts: uniform(vals), col: lowColours[i % lowColours.length], lty: lowTypes[i % lowTypes.length] }));
}
function blackLines(list: number[][]): Series[] {
  return list.map((vals, i) => ({ pts: uniform(vals), col: 0, lty: 1 + (i % 4) }));
}

const rawSeries: Series[] = [
  ...cyclic(rawBand, 0),
  { pts: uniform(rE01), col: 4, lty: 2 },
  { pts: uniform(rE02), col: 1, lty: 1 },
  { pts: uniform(rE03), col: 4, lty: 1 },
  { pts: uniform(rawSpikeA), col: 5, lty: 1 },
  { pts: uniform(rawSpikeB), col: 1, lty: 2 },
  { pts: uniform(rawSpikeC), col: 2, lty: 1 },
  { pts: uniform(rawSpikeD), col: 3, lty: 0 },
  { pts: uniform(rawRedDash), col: 1, lty: 1 },
  { pts: uniform(rawCyanDash), col: 4, lty: 1 },
  { pts: uniform(rawBlackLong), col: 0, lty: 4 },
  { pts: uniform(rawRedMid), col: 1, lty: 0 },
  { pts: uniform(rawMagentaMid), col: 5, lty: 0 },
  { pts: uniform(rawMagentaDash), col: 5, lty: 1 },
  { pts: uniform(rawRedLong), col: 1, lty: 4 },
  { pts: uniform(rawBlueDash), col: 3, lty: 1 },
  { pts: uniform(rawBlueDot), col: 3, lty: 2 },
  { pts: uniform(rawGreenDot), col: 2, lty: 2 },
  { pts: uniform(rawCyanDotLow), col: 4, lty: 2 },
  { pts: uniform(rawBlueLong), col: 3, lty: 4 },
  { pts: uniform(rawGreenSolid), col: 2, lty: 0 },
  { pts: uniform(rawCyanDip), col: 4, lty: 0 },
  { pts: uniform(rawBlueDrop), col: 3, lty: 0 },
  { pts: rawCyanDotSpike, col: 4, lty: 2 },
  { pts: rawGreenDotLow, col: 2, lty: 2 },
  { pts: rawBlackDashUp, col: 0, lty: 1 },
  { pts: rawBlackMid, col: 0, lty: 0 },
  { pts: rawGreenDeep, col: 2, lty: 4 },
  { pts: rawMagentaDip, col: 5, lty: 0 },
  { pts: rawRedLow, col: 1, lty: 0 },
  { pts: rawBlackLow, col: 0, lty: 0 },
];

const smoothSeries: Series[] = [
  ...cyclic(smoothTop, 0),
  ...blackLines(smoothBlackTop),
  ...cyclic(smoothMid, 1),
  ...cyclicLow(smoothLow),
  { pts: smMagentaMid, col: 5, lty: 0 },
  { pts: smGreenSolid, col: 2, lty: 0 },
  { pts: smBlackDashUp, col: 0, lty: 1 },
  { pts: smBlackMid, col: 0, lty: 0 },
  { pts: smBlueSolidDip, col: 3, lty: 0 },
  { pts: smBlueDashDip, col: 3, lty: 1 },
  { pts: smCyanDashDip, col: 4, lty: 1 },
  { pts: smCyanSolidDip, col: 4, lty: 0 },
  { pts: smGreenDeep, col: 2, lty: 4 },
  { pts: smMagentaDip, col: 5, lty: 0 },
  { pts: smRedLow, col: 1, lty: 0 },
  { pts: smBlackLow, col: 0, lty: 0 },
];

const FONT = "'Liberation Sans', Arial, Helvetica, sans-serif";
const TOP = 78.3;
const BOTTOM = 675;

function Panel(props: {
  id: string;
  left: number;
  right: number;
  yLim: number[];
  yTicks: number[];
  series: Series[];
  smooth: boolean;
}) {
  const { id, left, right, yLim, yTicks, series, smooth } = props;
  const x = d3.scaleLinear().domain(timeLimits).range([left, right]);
  const y = d3.scaleLinear().domain(yLim).range([BOTTOM, TOP]);
  const line = d3
    .line<number[]>()
    .x((d) => x(d[0]))
    .y((d) => y(d[1]));
  if (smooth) line.curve(d3.curveCatmullRom.alpha(0.5));
  const midY = (TOP + BOTTOM) / 2;
  const midX = (left + right) / 2;
  return (
    <g>
      <defs>
        <clipPath id={id}>
          <rect x={left} y={TOP} width={right - left} height={BOTTOM - TOP} />
        </clipPath>
      </defs>
      <g clipPath={`url(#${id})`}>
        {series.map((s, i) => (
          <path
            key={i}
            d={line(s.pts) || ""}
            fill="none"
            stroke={PALETTE[s.col]}
            strokeWidth={1}
            strokeDasharray={LTY_DASH[s.lty]}
            shapeRendering="crispEdges"
          />
        ))}
      </g>
      <rect
        x={Math.round(left) + 0.5}
        y={Math.round(TOP) + 0.5}
        width={Math.round(right) - Math.round(left)}
        height={Math.round(BOTTOM) - Math.round(TOP)}
        fill="none"
        stroke="#000"
        strokeWidth={1}
        shapeRendering="crispEdges"
      />
      {timeTicks.map((t) => (
        <g key={"xt" + t}>
          <line
            x1={Math.round(x(t)) + 0.5}
            x2={Math.round(x(t)) + 0.5}
            y1={BOTTOM}
            y2={BOTTOM + 9}
            stroke="#000"
            shapeRendering="crispEdges"
          />
          <text x={x(t)} y={704} textAnchor="middle" dominantBaseline="central" fontSize={16} fontFamily={FONT}>
            {t}
          </text>
        </g>
      ))}
      {yTicks.map((v) => (
        <g key={"yt" + v}>
          <line
            x1={left - 9}
            x2={left}
            y1={Math.round(y(v)) + 0.5}
            y2={Math.round(y(v)) + 0.5}
            stroke="#000"
            shapeRendering="crispEdges"
          />
          <text
            transform={`translate(${left - 28},${y(v)}) rotate(-90)`}
            textAnchor="middle"
            dominantBaseline="central"
            fontSize={16}
            fontFamily={FONT}
          >
            {v.toFixed(2)}
          </text>
        </g>
      ))}
      <text x={midX} y={743} textAnchor="middle" dominantBaseline="central" fontSize={16} fontFamily={FONT}>
        {xLabel}
      </text>
      <text
        transform={`translate(${left - 63},${midY}) rotate(-90)`}
        textAnchor="middle"
        dominantBaseline="central"
        fontSize={16}
        fontFamily={FONT}
      >
        {yLabel}
      </text>
    </g>
  );
}

export default function App() {
  return (
    <svg
      width={1536}
      height={773}
      viewBox="0 0 1536 773"
      style={{ position: "absolute", left: 0, top: 0, display: "block", background: "#fff" }}
    >
      <rect x={0} y={0} width={1536} height={773} fill="#fff" />
      <Panel id="clipRaw" left={78.3} right={727.7} yLim={rawYLimits} yTicks={rawYTicks} series={rawSeries} smooth={false} />
      <Panel id="clipSmooth" left={846} right={1495.3} yLim={smoothYLimits} yTicks={smoothYTicks} series={smoothSeries} smooth={true} />
    </svg>
  );
}
